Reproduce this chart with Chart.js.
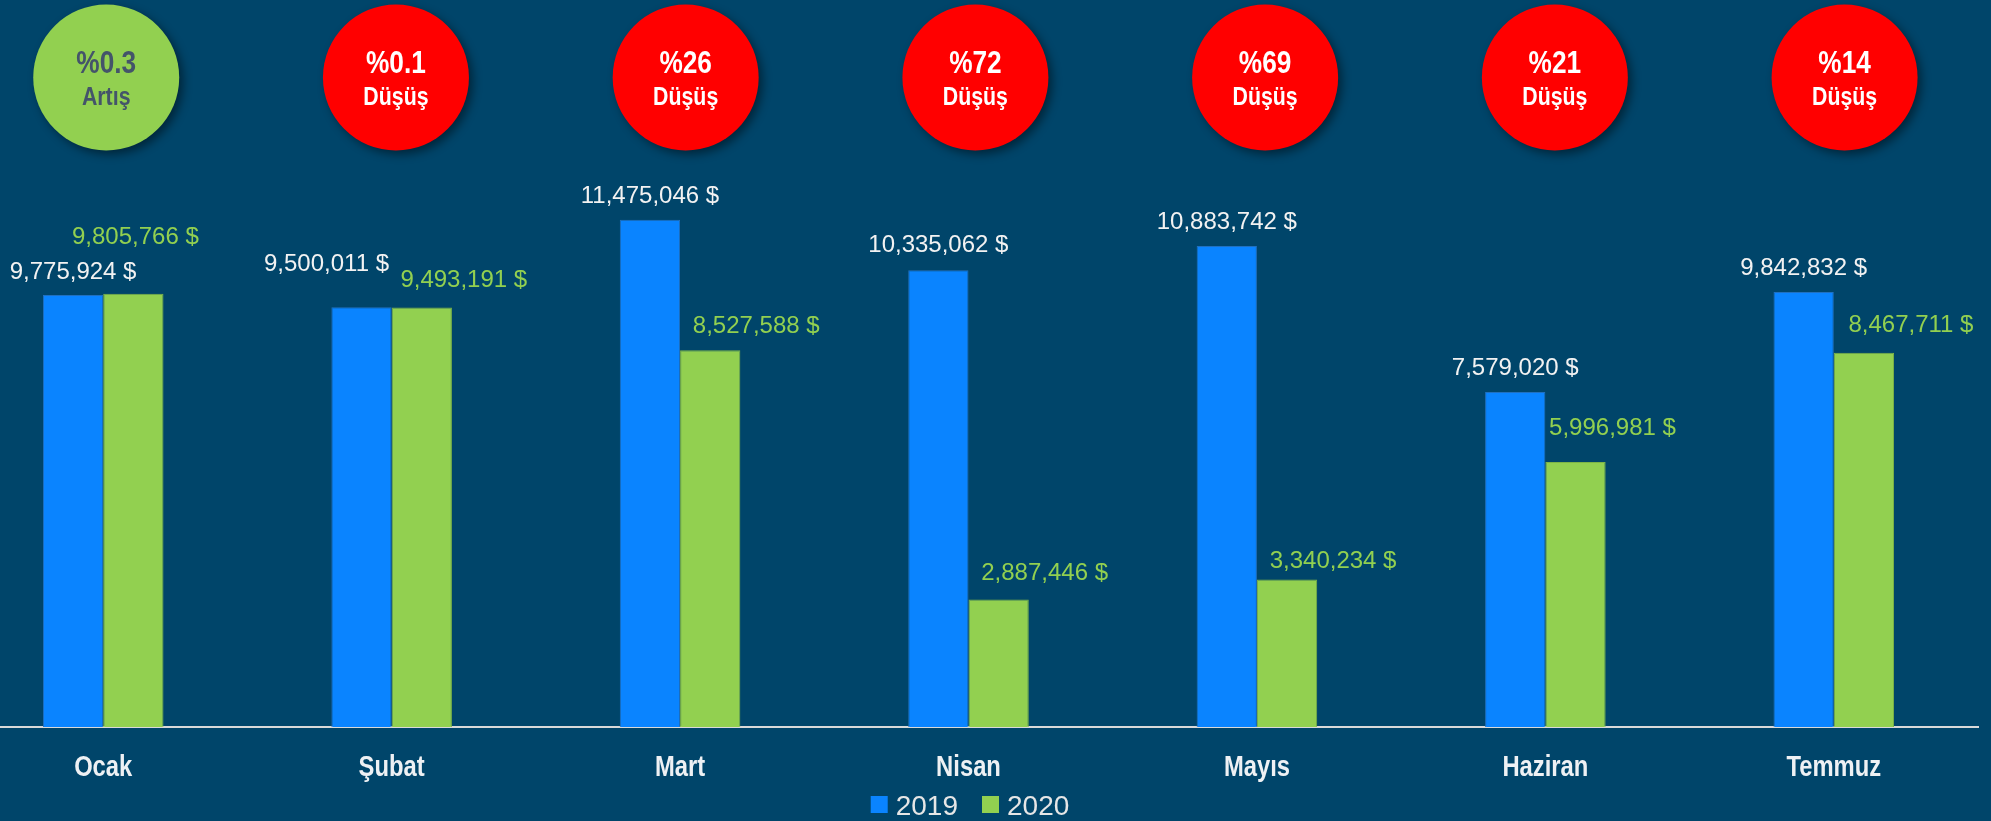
<!DOCTYPE html>
<html>
<head>
  <meta charset="utf-8">
  <title>Ocak - Temmuz 2019 / 2020</title>
  <script src="https://cdn.jsdelivr.net/npm/chart.js@4.4.1/dist/chart.umd.min.js"></script>
  <style>
  html, body {
    margin: 0;
    padding: 0;
    width: 1991px;
    height: 821px;
    overflow: hidden;
    background: #00456A;
  }
  #wrap {
    position: absolute;
    left: -41px;
    top: 0;
    width: 2032px;
    height: 821px;
  }
  </style>
</head>
<body>
  <div id="wrap"><canvas id="bar-chart"></canvas></div>

  <script>
    // data
    var months = ['Ocak', 'Şubat', 'Mart', 'Nisan', 'Mayıs', 'Haziran', 'Temmuz'];
    var exports2019 = [9775924, 9500011, 11475046, 10335062, 10883742, 7579020, 9842832];
    var exports2020 = [9805766, 9493191, 8527588, 2887446, 3340234, 5996981, 8467711];
    var changeText = ['%0.3', '%0.1', '%26', '%72', '%69', '%21', '%14'];
    var changeWord = ['Artış', 'Düşüş', 'Düşüş', 'Düşüş', 'Düşüş', 'Düşüş', 'Düşüş'];

    // label nudges (dx, dy of text centre from bar top) - hand placed in the original
    var shift2019 = [[0,-25],[-35,-45],[0,-25],[0,-27],[0,-26],[0,-26],[0,-26]];
    var shift2020 = [[2,-58],[42,-29],[46,-26],[46,-28],[46,-20],[37,-36],[47,-29]];

    var plain = '"Liberation Sans", Arial, sans-serif';
    var blue = '#0A84FF', green = '#92D050';

    function money(v) {
      return v.toLocaleString('en-US') + ' $';
    }

    // no narrow face installed, so squeeze the bold one
    function narrowText(ctx, txt, x, y, size) {
      ctx.save();
      ctx.font = 'bold ' + size + 'px ' + plain;
      ctx.textAlign = 'center';
      ctx.textBaseline = 'alphabetic';
      ctx.translate(x, y);
      ctx.scale(0.82, 1);
      ctx.fillText(txt, 0, 0);
      ctx.restore();
    }

    var valueLabels = {
      id: 'valueLabels',
      afterDatasetsDraw: function(chart) {
        var ctx = chart.ctx;
        ctx.save();
        ctx.font = '24px ' + plain;
        ctx.textAlign = 'center';
        ctx.textBaseline = 'alphabetic';
        chart.data.datasets.forEach(function(ds, d) {
          var shifts = d == 0 ? shift2019 : shift2020;
          ctx.fillStyle = d == 0 ? '#F2F2F2' : green;
          chart.getDatasetMeta(d).data.forEach(function(bar, i) {
            ctx.fillText(money(ds.data[i]), bar.x + shifts[i][0], bar.y + shifts[i][1] + 8.6);
          });
        });
        ctx.restore();
      }
    };

    var decor = {
      id: 'decor',
      afterDraw: function(chart) {
        var ctx = chart.ctx;
        var xs = chart.scales.x;
        var base = chart.chartArea.bottom;

        // month names under the axis
        ctx.fillStyle = '#EEF1F4';
        for (var i = 0; i < months.length; i++) {
          narrowText(ctx, months[i], xs.getPixelForValue(i), base + 48.5, 29);
        }

        // percent bubbles
        for (var i = 0; i < months.length; i++) {
          var cx = xs.getPixelForValue(i) + 3 + 1.3 * i;
          var cy = 77.5;
          var up = exports2020[i] > exports2019[i];
          ctx.save();
          ctx.shadowColor = 'rgba(0,0,0,0.45)';
          ctx.shadowBlur = 10;
          ctx.shadowOffsetX = 4;
          ctx.shadowOffsetY = 4;
          ctx.beginPath();
          ctx.arc(cx, cy, 73, 0, Math.PI * 2);
          ctx.fillStyle = up ? green : '#FF0000';
          ctx.fill();
          ctx.restore();

          ctx.fillStyle = up ? '#44546A' : '#FFFFFF';
          narrowText(ctx, changeText[i], cx, 73, 32);
          narrowText(ctx, changeWord[i], cx, 105, 26);
        }

        // legend
        ctx.save();
        ctx.font = '28px ' + plain;
        ctx.textBaseline = 'alphabetic';
        ctx.textAlign = 'left';
        var names = chart.data.datasets.map(function(ds) { return ds.label; });
        var total = 0;
        names.forEach(function(n, k) {
          total += 17 + 8 + ctx.measureText(n).width + (k ? 0 : 24);
        });
        var x = chart.width / 2 - total / 2 - 5;
        names.forEach(function(n, k) {
          ctx.fillStyle = chart.data.datasets[k].backgroundColor;
          ctx.fillRect(x, 796, 17, 17);
          x += 25;
          ctx.fillStyle = '#E6E6E6';
          ctx.fillText(n, x, 815);
          x += ctx.measureText(n).width + 24;
        });
        ctx.restore();
      }
    };

    new Chart(document.getElementById('bar-chart'), {
      type: 'bar',
      data: {
        labels: months,
        datasets: [
          {
            label: '2019',
            data: exports2019,
            backgroundColor: blue,
            borderColor: '#2070C0',
            borderWidth: 1
          },
          {
            label: '2020',
            data: exports2020,
            backgroundColor: green,
            borderColor: '#7DB446',
            borderWidth: 1
          }
        ]
      },
      options: {
        responsive: true,
        maintainAspectRatio: false,
        animation: false,
        layout: { padding: { top: 0, left: 0, right: 13, bottom: 94 } },
        datasets: {
          bar: { categoryPercentage: 0.418, barPercentage: 1 }
        },
        scales: {
          x: {
            grid: { display: false, drawTicks: false },
            border: { display: true, color: '#D9D9D9', width: 2 },
            ticks: { display: false }
          },
          y: {
            display: false,
            min: 0,
            max: 16450000
          }
        },
        plugins: {
          tooltip: { enabled: false },
          legend: { display: false }
        }
      },
      plugins: [valueLabels, decor]
    });
  </script>
</body>
</html>
